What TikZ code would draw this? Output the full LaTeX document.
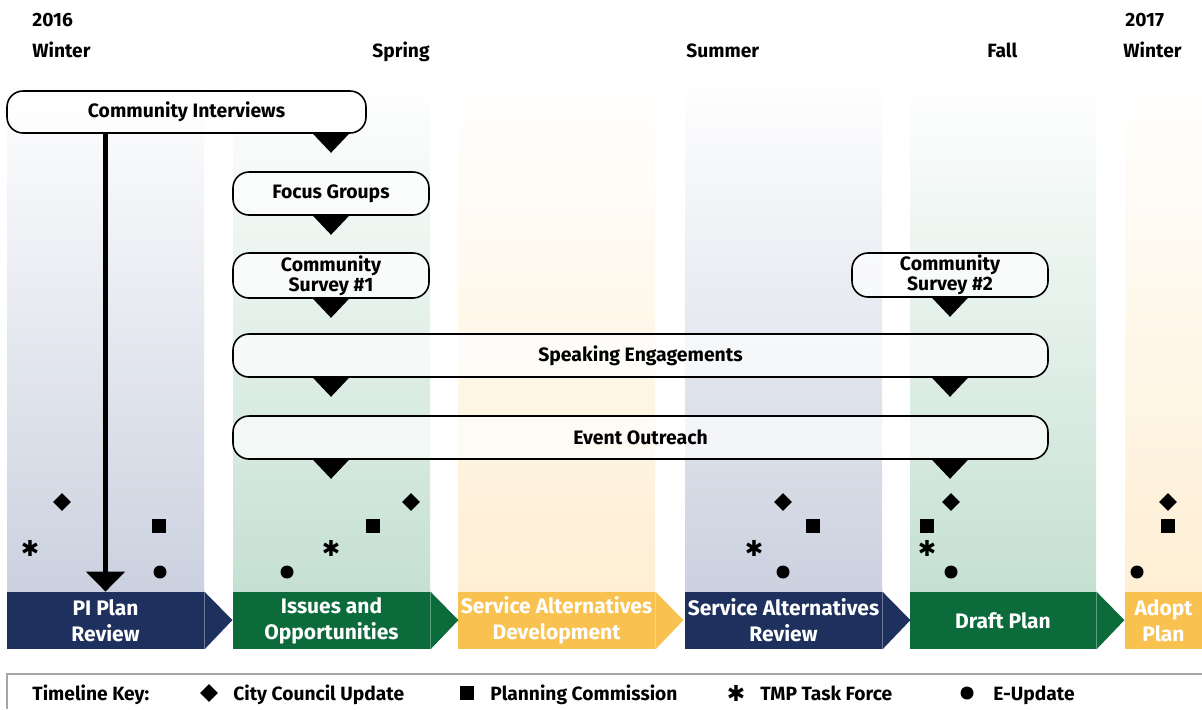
\documentclass[tikz,border=0pt]{standalone}
\usepackage{fontspec}
\setmainfont{Fira Sans}
\newfontfamily\symfont{DejaVu Sans}
\usepackage{tikz}
\usetikzlibrary{arrows.meta, positioning, shapes.geometric}

\definecolor{navy}{RGB}{30,49,94}
\definecolor{forest}{RGB}{12,107,58}
\definecolor{amber}{RGB}{249,193,79}
\definecolor{bandblue}{RGB}{203,209,223}
\definecolor{bandgreen}{RGB}{197,224,210}
\definecolor{bandamber}{RGB}{254,239,212}

\begin{document}
\begin{tikzpicture}[
        x=0.5pt, y=-0.5pt,
        band/.style={top color=white},
        season/.style={anchor=base west, inner sep=0pt, font=\bfseries\fontsize{9.6}{11}\selectfont},
        activity/.style={rectangle, rounded corners=8pt, draw, line width=0.8pt, fill=white, fill opacity=0.7, text opacity=1, align=center, font=\bfseries\fontsize{9.7}{10}\selectfont, minimum width=98pt, minimum height=21.5pt, inner sep=0pt},
        phase/.style={rectangle, minimum width=98.5pt, minimum height=28.5pt, inner sep=0pt, text=white, align=center, font=\bfseries\fontsize{10.5}{13}\selectfont},
        bigarrow/.style={-{Triangle[width=19pt, length=10pt]}, line width=2.5pt},
        cc/.style={diamond, fill=black, minimum size=9pt, inner sep=0pt},
        pc/.style={rectangle, fill=black, minimum size=7pt, inner sep=0pt},
        tf/.style={inner sep=0pt, font=\symfont\fontsize{11}{11}\selectfont},
        eu/.style={circle, fill=black, minimum size=6.5pt, inner sep=0pt},
        keytext/.style={anchor=base west, inner sep=0pt, font=\bfseries\fontsize{9.6}{11}\selectfont}
    ]
        \useasboundingbox (0,0) rectangle (1202,709);

        % season bands
        \fill[band, bottom color=bandblue] (7,78) rectangle (204,592);
        \fill[band, bottom color=bandgreen] (233,78) rectangle (430,592);
        \fill[band, bottom color=bandamber] (458,78) rectangle (655,592);
        \fill[band, bottom color=bandblue] (685,78) rectangle (882,592);
        \fill[band, bottom color=bandgreen] (910,78) rectangle (1096,592);
        \fill[band, bottom color=bandamber] (1125,78) rectangle (1202,592);

        \node[season] (y2016) at (32,26.5) {2016};
        \node[season] (winter) at (32,57.5) {Winter};
        \node[season] (spring) at (372,57.5) {Spring};
        \node[season] (summer) at (686,57.5) {Summer};
        \node[season] (fall) at (987,57.5) {Fall};
        \node[season] (y2017) at (1125,26.5) {2017};
        \node[season] (winter2) at (1123,57.5) {Winter};

        % phases
        \node[phase, fill=navy] (pi) at (105.5,620.5) {PI Plan\\Review};
        \node[phase, fill=forest] (io) at (331.5,620.5) {Issues and\\Opportunities};
        \node[phase, fill=amber] (sad) at (556.5,620.5) {Service Alternatives\\Development};
        \node[phase, fill=navy] (sar) at (783.5,620.5) {Service Alternatives\\Review};
        \node[phase, fill=forest, minimum width=93pt] (dp) at (1003,620.5) {Draft Plan};
        \node[phase, fill=amber, minimum width=38.5pt] (ap) at (1163.5,620.5) {Adopt\\Plan};
        \fill[navy] (pi.north east) -- ++(28,28.5) -- (pi.south east) -- cycle;
        \fill[forest] (io.north east) -- ++(28,28.5) -- (io.south east) -- cycle;
        \fill[amber] (sad.north east) -- ++(28,28.5) -- (sad.south east) -- cycle;
        \fill[navy] (sar.north east) -- ++(28,28.5) -- (sar.south east) -- cycle;
        \fill[forest] (dp.north east) -- ++(28,28.5) -- (dp.south east) -- cycle;

        % activities
        \node[activity, minimum width=179.5pt, minimum height=21pt] (ci) at (186.5,112) {Community Interviews};
        \node[activity] (fg) at (331,193.5) {Focus Groups};
        \node[activity, minimum height=22.5pt] (cs1) at (331,275.5) {Community\\Survey \#1};
        \node[activity, minimum height=22pt] (cs2) at (950,275) {Community\\Survey \#2};
        \node[activity, minimum width=407.5pt] (se) at (640.5,355.5) {Speaking Engagements};
        \node[activity, minimum width=407.5pt] (eo) at (640.5,437.5) {Event Outreach};

        \fill (ci.south -| fg.north) ++(-18,0) -- ++(36,0) -- ++(-18,19) -- cycle;
        \fill (fg.south) ++(-18,0) -- ++(36,0) -- ++(-18,19) -- cycle;
        \fill (cs1.south) ++(-18,0) -- ++(36,0) -- ++(-18,19) -- cycle;
        \fill (cs2.south) ++(-18,0) -- ++(36,0) -- ++(-18,19) -- cycle;
        \fill (se.south -| fg.north) ++(-18,0) -- ++(36,0) -- ++(-18,19) -- cycle;
        \fill (se.south -| cs2.north) ++(-18,0) -- ++(36,0) -- ++(-18,19) -- cycle;
        \fill (eo.south -| fg.north) ++(-18,0) -- ++(36,0) -- ++(-18,19) -- cycle;
        \fill (eo.south -| cs2.north) ++(-18,0) -- ++(36,0) -- ++(-18,19) -- cycle;

        \draw[bigarrow] (ci.south -| pi.north) -- (pi.north);

        % meetings
        \node[cc] (cc1) at (62,502) {};
        \node[pc] (pc1) at (159,526) {};
        \node[tf] (tf1) at (30,548) {✱};
        \node[eu] (eu1) at (160,572) {};
        \node[cc] (cc2) at (411,502) {};
        \node[pc] (pc2) at (373,526) {};
        \node[tf] (tf2) at (331,548) {✱};
        \node[eu] (eu2) at (287,572) {};
        \node[cc] (cc4) at (783,502) {};
        \node[pc] (pc4) at (813,526) {};
        \node[tf] (tf4) at (754,548) {✱};
        \node[eu] (eu4) at (783,572) {};
        \node[cc] (cc5) at (951,502) {};
        \node[pc] (pc5) at (927,526) {};
        \node[tf] (tf5) at (927,548) {✱};
        \node[eu] (eu5) at (951,572) {};
        \node[cc] (cc6) at (1168,502) {};
        \node[pc] (pc6) at (1168,526) {};
        \node[eu] (eu6) at (1137,572) {};

        % key
        \draw[black!35, line width=0.6pt] (1202,674) -| (7,709);
        \node[keytext] (key) at (32,700) {Timeline Key:};
        \node[cc] (kcc) at (209,693) {};
        \node[keytext] (kcct) at (233,700) {City Council Update};
        \node[pc] (kpc) at (467,693) {};
        \node[keytext] (kpct) at (490,700) {Planning Commission};
        \node[tf] (ktf) at (736,693) {✱};
        \node[keytext] (ktft) at (760,700) {TMP Task Force};
        \node[eu] (keu) at (967,693) {};
        \node[keytext] (keut) at (993,700) {E-Update};
    \end{tikzpicture}
\end{document}
